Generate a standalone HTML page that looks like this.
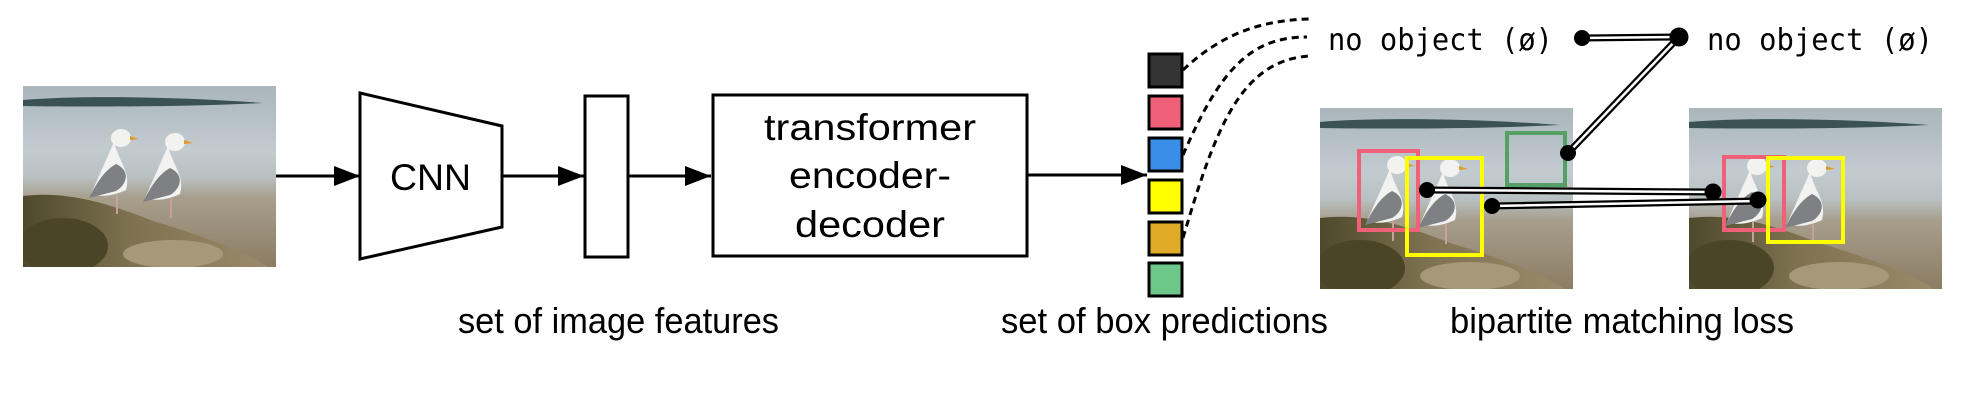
<!DOCTYPE html>
<html><head><meta charset="utf-8"><style>
html,body{margin:0;padding:0;background:#fff;width:1970px;height:400px;overflow:hidden}
text{font-family:"Liberation Sans",Arial,sans-serif;fill:#000}
.mono{font-family:"DejaVu Sans Mono","Liberation Mono",monospace}
</style></head><body>
<svg width="1970" height="400" viewBox="0 0 1970 400" xmlns="http://www.w3.org/2000/svg">
<defs>
<marker id="ah" markerWidth="26" markerHeight="20" refX="26" refY="10" orient="auto" markerUnits="userSpaceOnUse">
<path d="M0,0 L26,10 L0,20 Z" fill="#000"/></marker>
<linearGradient id="water" x1="0" y1="0" x2="0" y2="1">
<stop offset="0" stop-color="#aab6ba"/><stop offset="0.35" stop-color="#c2cbcf"/>
<stop offset="0.5" stop-color="#b9c1c3"/><stop offset="0.62" stop-color="#a79e8c"/>
<stop offset="1" stop-color="#8c7d63"/></linearGradient>
<linearGradient id="rock" x1="0" y1="0" x2="1" y2="0">
<stop offset="0" stop-color="#4d4a2c"/><stop offset="0.45" stop-color="#7f7250"/><stop offset="1" stop-color="#9a8a6a"/></linearGradient>
<g id="photo">
<rect width="253" height="181" fill="url(#water)"/>
<path d="M0,14 C60,9 160,11 240,17 C160,21 60,21 0,20 Z" fill="#3a5252"/>
<path d="M0,181 L0,110 C40,105 80,115 130,135 C180,150 220,165 245,181 Z" fill="url(#rock)"/>
<ellipse cx="40" cy="160" rx="45" ry="28" fill="#4a4526"/>
<ellipse cx="150" cy="168" rx="50" ry="14" fill="#a8987a"/>
</g>
<g id="birds">
<ellipse cx="0" cy="0" rx="10" ry="9" fill="#f2f2f0"/><path d="M9,-2 L18,1 L9,2Z" fill="#e09a2a"/>
<path d="M-7,4 C-2,24 10,34 5,52 C-12,60 -24,58 -30,56 Z" fill="#f2f2f0"/>
<path d="M-5,26 C9,32 7,46 -5,53 L-32,60 C-24,44 -16,32 -5,26Z" fill="#7e8084"/>
<line x1="-4" y1="56" x2="-4" y2="76" stroke="#c8a0a0" stroke-width="2"/>
</g>
</defs>

<svg x="23" y="86" width="253" height="181" viewBox="0 0 253 181">
<use href="#photo"/>
<use href="#birds" x="98" y="52"/>
<use href="#birds" x="152" y="56"/>
</svg>

<g stroke="#000" stroke-width="3" fill="none">
<line x1="276" y1="176" x2="360" y2="176" marker-end="url(#ah)"/>
<line x1="502" y1="176" x2="584" y2="176" marker-end="url(#ah)"/>
<line x1="628" y1="176" x2="711" y2="176" marker-end="url(#ah)"/>
<line x1="1027" y1="175" x2="1147" y2="175" marker-end="url(#ah)"/>
<path d="M360,93 L502,126 L502,227 L360,259 Z"/>
<rect x="585" y="96" width="43" height="161"/>
<rect x="713" y="95" width="314" height="161"/>
</g>
<text x="390" y="190" font-size="37" textLength="81" lengthAdjust="spacingAndGlyphs">CNN</text>
<text x="870" y="140" font-size="37" text-anchor="middle" textLength="212" lengthAdjust="spacingAndGlyphs">transformer</text>
<text x="870" y="188" font-size="37" text-anchor="middle" textLength="162" lengthAdjust="spacingAndGlyphs">encoder-</text>
<text x="870" y="237" font-size="37" text-anchor="middle" textLength="150" lengthAdjust="spacingAndGlyphs">decoder</text>
<text x="458" y="333" font-size="36" textLength="321" lengthAdjust="spacingAndGlyphs">set of image features</text>
<text x="1001" y="333" font-size="36" textLength="327" lengthAdjust="spacingAndGlyphs">set of box predictions</text>
<text x="1450" y="333" font-size="36" textLength="344" lengthAdjust="spacingAndGlyphs">bipartite matching loss</text>

<g stroke="#000" stroke-width="3">
<rect x="1149" y="54" width="33" height="33" fill="#333"/>
<rect x="1149" y="96" width="33" height="33" fill="#f06078"/>
<rect x="1149" y="138" width="33" height="33" fill="#3a8ee8"/>
<rect x="1149" y="180" width="33" height="33" fill="#ffff00"/>
<rect x="1149" y="222" width="33" height="33" fill="#dfab28"/>
<rect x="1149" y="263" width="33" height="33" fill="#6cc788"/>
</g>
<g stroke="#000" stroke-width="3" fill="none" stroke-dasharray="7,5">
<path d="M1183,70 C1220,35 1260,20 1310,19"/>
<path d="M1183,155 C1220,70 1250,37 1307,37"/>
<path d="M1183,238 C1215,130 1240,60 1310,56"/>
</g>
<text class="mono" x="1328" y="50" font-size="30" textLength="225" lengthAdjust="spacingAndGlyphs">no object (ø)</text>
<text class="mono" x="1707" y="50" font-size="30" textLength="226" lengthAdjust="spacingAndGlyphs">no object (ø)</text>

<svg x="1320" y="108" width="253" height="181" viewBox="0 0 253 181">
<use href="#photo"/>
<use href="#birds" x="77" y="57"/>
<use href="#birds" x="130" y="60"/>
</svg>
<svg x="1689" y="108" width="253" height="181" viewBox="0 0 253 181">
<use href="#photo"/>
<use href="#birds" x="68" y="58"/>
<use href="#birds" x="128" y="60"/>
</svg>
<g fill="none" stroke-width="4">
<rect x="1359" y="151" width="59" height="79" stroke="#f06078"/>
<rect x="1407" y="158" width="75" height="97" stroke="#ffff00"/>
<rect x="1507" y="133" width="58" height="52" stroke="#55a065"/>
<rect x="1724" y="157" width="60" height="73" stroke="#f06078"/>
<rect x="1768" y="158" width="75" height="84" stroke="#ffff00"/>
</g>
<g stroke-linecap="round">
<g stroke="#000" stroke-width="7">
<line x1="1582" y1="38" x2="1679" y2="37"/>
<line x1="1568" y1="153" x2="1679" y2="37"/>
<line x1="1427" y1="190" x2="1713" y2="192"/>
<line x1="1492" y1="206" x2="1758" y2="201"/>
</g>
<g stroke="#fff" stroke-width="2.5">
<line x1="1582" y1="38" x2="1679" y2="37"/>
<line x1="1568" y1="153" x2="1679" y2="37"/>
<line x1="1427" y1="190" x2="1713" y2="192"/>
<line x1="1492" y1="206" x2="1758" y2="201"/>
</g>
</g>
<g fill="#000">
<circle cx="1582" cy="38" r="8"/><circle cx="1679" cy="37" r="9.5"/>
<circle cx="1568" cy="153" r="8"/>
<circle cx="1427" cy="190" r="8"/><circle cx="1492" cy="206" r="8"/>
<circle cx="1713" cy="192" r="8.5"/><circle cx="1758" cy="200" r="8.5"/>
</g>
</svg>
</body></html>
